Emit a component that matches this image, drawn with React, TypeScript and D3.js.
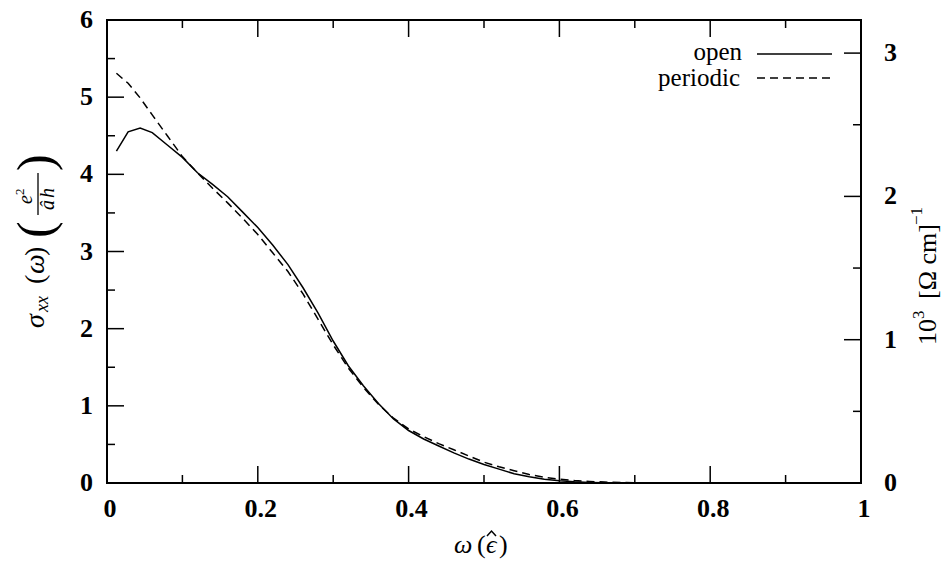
import React from "react";
import * as d3 from "d3";

const omega = [0.0125, 0.028, 0.044, 0.06, 0.08, 0.1, 0.12, 0.14, 0.16, 0.18, 0.2, 0.22, 0.24, 0.26, 0.28, 0.3, 0.32, 0.34, 0.36, 0.38, 0.4, 0.42, 0.44, 0.46, 0.48, 0.5, 0.52, 0.54, 0.56, 0.58, 0.6, 0.62, 0.64, 0.66, 0.7, 0.75, 0.8, 0.85, 0.9, 0.95, 1.0];
const openVals = [4.3, 4.55, 4.6, 4.54, 4.38, 4.22, 4.02, 3.87, 3.71, 3.51, 3.31, 3.08, 2.83, 2.53, 2.2, 1.84, 1.52, 1.26, 1.03, 0.83, 0.68, 0.57, 0.48, 0.39, 0.31, 0.24, 0.18, 0.12, 0.08, 0.05, 0.03, 0.015, 0.007, 0.003, 0.001, 0, 0, 0, 0, 0, 0];
const periodicVals = [5.31, 5.18, 4.99, 4.77, 4.5, 4.23, 4.02, 3.82, 3.63, 3.43, 3.22, 2.98, 2.74, 2.45, 2.12, 1.79, 1.49, 1.24, 1.02, 0.84, 0.7, 0.6, 0.51, 0.43, 0.35, 0.27, 0.21, 0.16, 0.11, 0.075, 0.05, 0.032, 0.02, 0.012, 0.004, 0.001, 0, 0, 0, 0, 0];

const xMajor = [0, 0.2, 0.4, 0.6, 0.8, 1];
const xMinor = [0.1, 0.3, 0.5, 0.7, 0.9];
const yMajor = [0, 1, 2, 3, 4, 5, 6];
const yMinor = [0.5, 1.5, 2.5, 3.5, 4.5, 5.5];
const yRMajor = [0, 1, 2, 3];
const yRMinor = [0.5, 1.5, 2.5];
const seriesNames = ["open", "periodic"];

const W = 947;
const H = 569;
const L = 107, R = 861, T = 20, B = 483;
const FONT = '"Liberation Serif", "Times New Roman", "DejaVu Serif", serif';

export default function App() {
  const x = d3.scaleLinear().domain([0, 1]).range([L, R]);
  const y = d3.scaleLinear().domain([0, 6]).range([B, T]);
  const yR = d3.scaleLinear().domain([0, (B - T) / 143.3]).range([B, T]);
  const line = d3.line<number>().x((_, i) => x(omega[i])).y((v) => y(v));
  const MAJ = 17, MIN = 8;
  const ts = { fontFamily: FONT };

  return (
    <svg width={W} height={H} style={{ position: "absolute", left: 0, top: 0, fontFamily: FONT }}>
      <rect x={0} y={0} width={W} height={H} fill="#fff" />
      <g stroke="#000" strokeWidth={1.5}>
        {xMajor.map((t) => (
          <g key={"xM" + t}>
            <line x1={x(t)} x2={x(t)} y1={B} y2={B - MAJ} />
            <line x1={x(t)} x2={x(t)} y1={T} y2={T + MAJ} />
          </g>
        ))}
        {xMinor.map((t) => (
          <g key={"xm" + t}>
            <line x1={x(t)} x2={x(t)} y1={B} y2={B - MIN} />
            <line x1={x(t)} x2={x(t)} y1={T} y2={T + MIN} />
          </g>
        ))}
        {yMajor.map((t) => (
          <line key={"yM" + t} x1={L} x2={L + MAJ} y1={y(t)} y2={y(t)} />
        ))}
        {yMinor.map((t) => (
          <line key={"ym" + t} x1={L} x2={L + MIN} y1={y(t)} y2={y(t)} />
        ))}
        {yRMajor.map((t) => (
          <line key={"rM" + t} x1={R} x2={R - MAJ} y1={yR(t)} y2={yR(t)} />
        ))}
        {yRMinor.map((t) => (
          <line key={"rm" + t} x1={R} x2={R - MIN} y1={yR(t)} y2={yR(t)} />
        ))}
      </g>
      <path d={line(openVals) || ""} fill="none" stroke="#000" strokeWidth={1.5} />
      <path d={line(periodicVals) || ""} fill="none" stroke="#000" strokeWidth={1.5} strokeDasharray="8 5" />
      <rect x={L} y={T} width={R - L} height={B - T} fill="none" stroke="#000" strokeWidth={2} />
      <g fontSize={26} fontWeight="bold" fill="#000" style={ts}>
        {yMajor.map((t) => (
          <text key={"yl" + t} x={L - 14} y={y(t) + 8} textAnchor="end">{t}</text>
        ))}
        {yRMajor.map((t) => (
          <text key={"rl" + t} x={R + 23} y={yR(t) + 8} textAnchor="start">{t}</text>
        ))}
        {xMajor.map((t) => (
          <text key={"xl" + t} x={x(t) + 3} y={517} textAnchor="middle">{t}</text>
        ))}
      </g>
      <g fontSize={25} fill="#000" style={ts}>
        <text x={742} y={60} textAnchor="end">{seriesNames[0]}</text>
        <line x1={757} x2={832} y1={54} y2={54} stroke="#000" strokeWidth={1.5} />
        <text x={740} y={86} textAnchor="end">{seriesNames[1]}</text>
        <line x1={757} x2={832} y1={78} y2={78} stroke="#000" strokeWidth={1.5} strokeDasharray="8 5" />
      </g>
      <g fill="#000" style={ts} fontSize={26}>
        <text x={454} y={553} fontStyle="italic">ω</text>
        <text x={477} y={553}>(</text>
        <text x={486} y={553} fontStyle="italic">ϵ</text>
        <text x={499} y={553}>)</text>
      </g>
      <path d="M487,536 L491.5,531 L496,536" fill="none" stroke="#000" strokeWidth={1.5} />
      <g transform="translate(44,328) rotate(-90)" fill="#000" style={ts}>
        <text x={0} y={0} fontSize={28} fontStyle="italic">σ</text>
        <text x={16} y={4} fontSize={18} fontStyle="italic">xx</text>
        <text x={44} y={0} fontSize={28}>(</text>
        <text x={54} y={0} fontSize={28} fontStyle="italic">ω</text>
        <text x={72} y={0} fontSize={28}>)</text>
        <text x={90} y={8} fontSize={50}>(</text>
        <text x={124} y={-12} fontSize={20} fontStyle="italic">e</text>
        <text x={133} y={-20} fontSize={13}>2</text>
        <line x1={113} x2={155} y1={-6} y2={-6} stroke="#000" strokeWidth={1.3} />
        <text x={118} y={10} fontSize={20} fontStyle="italic">â</text>
        <text x={130} y={10} fontSize={20} fontStyle="italic">h</text>
        <text x={157} y={8} fontSize={50}>)</text>
      </g>
      <g transform="translate(936,345) rotate(-90)" fill="#000" style={ts}>
        <text x={0} y={0} fontSize={26}>10</text>
        <text x={26} y={-12} fontSize={17}>3</text>
        <text x={46} y={0} fontSize={26}>[Ω cm]</text>
        <text x={120} y={-14} fontSize={17}>−1</text>
      </g>
    </svg>
  );
}
